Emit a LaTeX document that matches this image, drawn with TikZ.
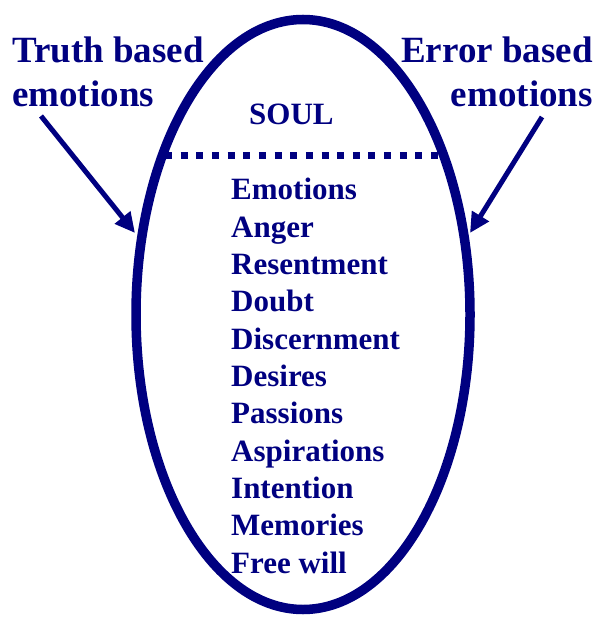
\documentclass[tikz,border=0pt]{standalone}
\usepackage{fontspec}
\setmainfont{Liberation Serif}
\usetikzlibrary{arrows.meta}
\definecolor{soulblue}{RGB}{0,0,128}
\tikzset{
  label/.style={font=\fontsize{37}{44}\selectfont\bfseries, text=soulblue, inner sep=0pt},
  item/.style={font=\fontsize{31}{37}\selectfont\bfseries, text=soulblue, inner sep=0pt, anchor=base west},
  pointer/.style={draw=soulblue, line width=5pt, -{Triangle[length=20pt,width=19pt]}},
}
\begin{document}
\begin{tikzpicture}[x=1pt,y=-1pt]
  \useasboundingbox (0,0) rectangle (597,617);
  % divider, running from rim to rim
  \coordinate (dl) at (165,155.5);
  \coordinate (dr) at (438,155.5);
  \draw[soulblue, line width=7pt, dash pattern=on 7pt off 8.65pt] (dl) -- (dr);
  % the soul
  \draw[soulblue, line width=9.5pt] (303,314.5) ellipse [x radius=167, y radius=295];
  \node[item] (soul) at (249,125) {SOUL};
  % faculties
  \foreach \t [count=\i from 0] in {Emotions,Anger,Resentment,Doubt,Discernment,Desires,Passions,Aspirations,Intention,Memories,Free will}
    \node[item] (f\i) at (231,{200+37.3*\i}) {\t};
  % side labels
  \node[label, anchor=base west] (tl1) at (12,63) {Truth based};
  \node[label, anchor=base west] (tl2) at (12,107) {emotions};
  \node[label, anchor=base east] (el1) at (593,63) {Error based};
  \node[label, anchor=base east] (el2) at (593,107) {emotions};
  % pointers onto the soul
  \coordinate (ts) at (41,116);
  \coordinate (tt) at (135,233);
  \coordinate (es) at (542,117);
  \coordinate (et) at (470,233);
  \draw[pointer] (ts) -- (tt);
  \draw[pointer] (es) -- (et);
\end{tikzpicture}
\end{document}
